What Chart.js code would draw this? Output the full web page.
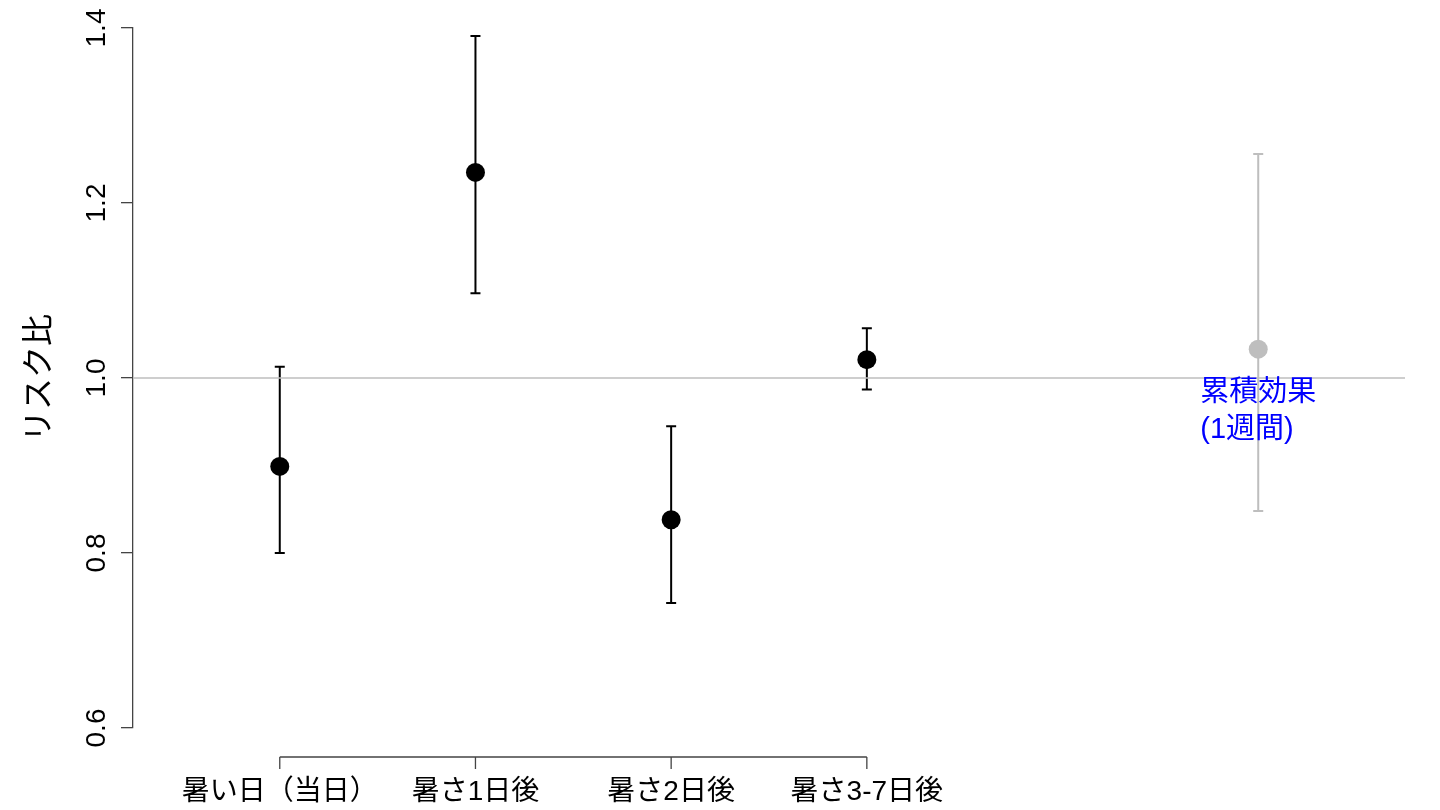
<!DOCTYPE html>
<html lang="ja">
<head>
  <meta charset="UTF-8">
  <title>リスク比</title>
  <script src="https://cdn.jsdelivr.net/npm/chart.js"></script>
  <style>
    body {
      margin: 0;
      background: #fff;
    }
    #wrap {
      width: 1440px;
      height: 810px;
    }
  </style>
</head>
<body>
<div id="wrap"><canvas id="rrChart" width="1440" height="810"></canvas></div>

<script>
  // 遅れ別の推定値
  const lagLabels = ['暑い日（当日）', '暑さ1日後', '暑さ2日後', '暑さ3-7日後'];
  const lagPos = [1, 2, 3, 4];
  const lagRR = [0.899, 1.235, 0.838, 1.021];
  const lagLow = [0.800, 1.097, 0.743, 0.987];
  const lagHigh = [1.013, 1.391, 0.945, 1.057];

  // 累積効果（1週間）
  const cumPos = [6];
  const cumRR = [1.033];
  const cumLow = [0.848];
  const cumHigh = [1.256];
  const cumText = ['累積効果', '(1週間)'];

  const yTicks = [0.6, 0.8, 1.0, 1.2, 1.4];
  const refValue = 1.0;

  const FONT = '"Liberation Sans", Arial, "Noto Sans CJK JP", sans-serif';

  const errorBars = {
    id: 'errorBars',
    beforeDatasetsDraw(chart) {
      const { ctx, scales: { x, y } } = chart;
      const groups = [
        { pos: lagPos, lo: lagLow, hi: lagHigh, color: '#000', w: 2 },
        { pos: cumPos, lo: cumLow, hi: cumHigh, color: '#bebebe', w: 2 }
      ];
      ctx.save();
      groups.forEach(g => {
        ctx.strokeStyle = g.color;
        ctx.lineWidth = g.w;
        g.pos.forEach((p, i) => {
          const px = x.getPixelForValue(p);
          const y1 = y.getPixelForValue(g.lo[i]);
          const y2 = y.getPixelForValue(g.hi[i]);
          ctx.beginPath();
          ctx.moveTo(px, y1); ctx.lineTo(px, y2);
          ctx.moveTo(px - 5, y1); ctx.lineTo(px + 5, y1);
          ctx.moveTo(px - 5, y2); ctx.lineTo(px + 5, y2);
          ctx.stroke();
        });
      });
      ctx.restore();
    },
    afterDraw(chart) {
      const { ctx, chartArea, scales: { x, y } } = chart;
      ctx.save();
      // x軸（Rの様に下に離して描く）
      const ay = chartArea.bottom + 29;
      ctx.strokeStyle = '#444';
      ctx.lineWidth = 1.3;
      ctx.beginPath();
      ctx.moveTo(x.getPixelForValue(lagPos[0]), ay);
      ctx.lineTo(x.getPixelForValue(lagPos[lagPos.length - 1]), ay);
      lagPos.forEach(p => {
        const px = x.getPixelForValue(p);
        ctx.moveTo(px, ay);
        ctx.lineTo(px, ay + 12);
      });
      ctx.stroke();

      // y目盛りラベル（縦書き）
      ctx.fillStyle = '#000';
      ctx.font = '28px ' + FONT;
      ctx.textAlign = 'center';
      ctx.textBaseline = 'middle';
      yTicks.forEach(v => {
        const py = y.getPixelForValue(v);
        ctx.save();
        ctx.translate(chartArea.left - 36, py);
        ctx.rotate(-Math.PI / 2);
        ctx.fillText(v.toFixed(1), 0, 0);
        ctx.restore();
      });

      // 累積効果の注記
      ctx.fillStyle = '#0000ff';
      ctx.font = '29px ' + FONT;
      ctx.textAlign = 'left';
      const cx = x.getPixelForValue(cumPos[0]);
      const ry = y.getPixelForValue(refValue);
      const w0 = ctx.measureText(cumText[0]).width;
      ctx.fillText(cumText[0], cx - w0 / 2, ry + 15);
      ctx.fillText(cumText[1], cx - w0 / 2, ry + 52);
      ctx.restore();
    }
  };

  new Chart(document.getElementById('rrChart'), {
    type: 'scatter',
    data: {
      datasets: [
        {
          type: 'line',
          data: [{ x: 0.25, y: refValue }, { x: 6.75, y: refValue }],
          borderColor: '#bebebe',
          borderWidth: 1.5,
          pointRadius: 0,
          order: 3
        },
        {
          data: lagPos.map((p, i) => ({ x: p, y: lagRR[i] })),
          backgroundColor: '#000',
          borderWidth: 0,
          pointRadius: 9.5,
          order: 1
        },
        {
          data: cumPos.map((p, i) => ({ x: p, y: cumRR[i] })),
          backgroundColor: '#bebebe',
          borderWidth: 0,
          pointRadius: 9.5,
          order: 2
        }
      ]
    },
    options: {
      responsive: false,
      animation: false,
      layout: { padding: { top: 28, right: 35, left: 0, bottom: 0 } },
      plugins: { legend: { display: false }, tooltip: { enabled: false } },
      scales: {
        x: {
          type: 'linear',
          min: 0.25,
          max: 6.75,
          grid: { display: false, drawTicks: false },
          border: { display: false },
          afterBuildTicks: s => { s.ticks = lagPos.map(v => ({ value: v })); },
          afterFit: s => { s.height = 82; },
          ticks: {
            padding: 47,
            color: '#000',
            font: { size: 28, family: FONT },
            maxRotation: 0,
            autoSkip: false,
            callback: v => lagLabels[lagPos.indexOf(v)]
          }
        },
        y: {
          min: 0.6,
          max: 1.4,
          afterBuildTicks: s => { s.ticks = yTicks.map(v => ({ value: v })); },
          afterFit: s => { s.width = 133; },
          grid: { drawOnChartArea: false, tickLength: 12, color: '#444', lineWidth: 1.3 },
          border: { display: true, color: '#444', width: 1.3 },
          ticks: { display: false },
          title: {
            display: true,
            text: 'リスク比',
            color: '#000',
            font: { size: 32, family: FONT },
            padding: { top: 21 }
          }
        }
      }
    },
    plugins: [errorBars]
  });
</script>
</body>
</html>
